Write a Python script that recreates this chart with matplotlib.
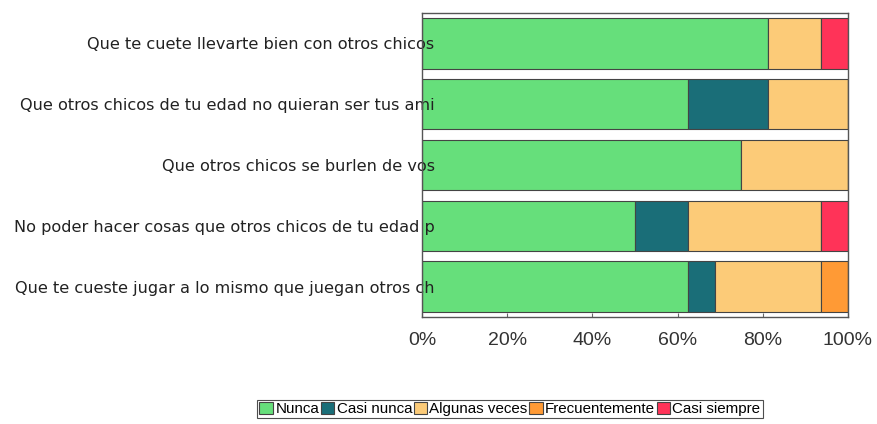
import matplotlib.pyplot as plt
import numpy as np

plt.rcParams['font.family'] = ['Liberation Sans', 'DejaVu Sans']

# preguntas (de arriba hacia abajo)
questions = [
    'Que te cuete llevarte bien con otros chicos',
    'Que otros chicos de tu edad no quieran ser tus ami',
    'Que otros chicos se burlen de vos',
    'No poder hacer cosas que otros chicos de tu edad p',
    'Que te cueste jugar a lo mismo que juegan otros ch',
]
answers = ['Nunca', 'Casi nunca', 'Algunas veces', 'Frecuentemente', 'Casi siempre']

# porcentaje de respuestas por pregunta
nunca = [81.25, 62.5, 75.0, 50.0, 62.5]
casi_nunca = [0.0, 18.75, 0.0, 12.5, 6.25]
algunas_veces = [12.5, 18.75, 25.0, 31.25, 25.0]
frecuentemente = [0.0, 0.0, 0.0, 0.0, 6.25]
casi_siempre = [6.25, 0.0, 0.0, 6.25, 0.0]

colors = ['#66DF7B', '#1A6E78', '#FCCB78', '#FF9A35', '#FF3358']

fig = plt.figure(figsize=(8.77, 4.24), dpi=100)
ax = fig.add_axes([0.4812, 0.2524, 0.4857, 0.717])

series = [nunca, casi_nunca, algunas_veces, frecuentemente, casi_siempre]
y = np.arange(len(questions))[::-1]
left = np.zeros(len(questions))
for name, vals, col in zip(answers, series, colors):
    vals = np.array(vals)
    ax.barh(y, vals, left=left, height=0.83, color=col, edgecolor='#444444',
            linewidth=0.8, label=name)
    left += vals

ax.set_xlim(0, 100)
ax.set_ylim(-0.5, 4.5)
ax.set_yticks(y)
ax.set_yticklabels(questions, fontsize=11.6, color='#222222', family='DejaVu Sans')
ax.tick_params(axis='y', length=0, pad=-9)
ax.set_xticks([0, 20, 40, 60, 80, 100])
ax.set_xticklabels(['0%', '20%', '40%', '60%', '80%', '100%'], fontsize=14, color='#333333')
ax.tick_params(axis='x', direction='in', length=3, pad=11, color='#666666')
for s in ax.spines.values():
    s.set_color('#555555')
    s.set_linewidth(1.0)

leg = fig.legend(loc='center', bbox_to_anchor=(0.5815, 0.035), ncol=5, fontsize=10.9,
                 frameon=True, fancybox=False, edgecolor='#222222', borderpad=0.15,
                 handlelength=0.9, handleheight=0.8, handletextpad=0.15,
                 columnspacing=0.1, borderaxespad=0)
leg.get_frame().set_linewidth(0.8)

plt.savefig('out.png', dpi=100)
